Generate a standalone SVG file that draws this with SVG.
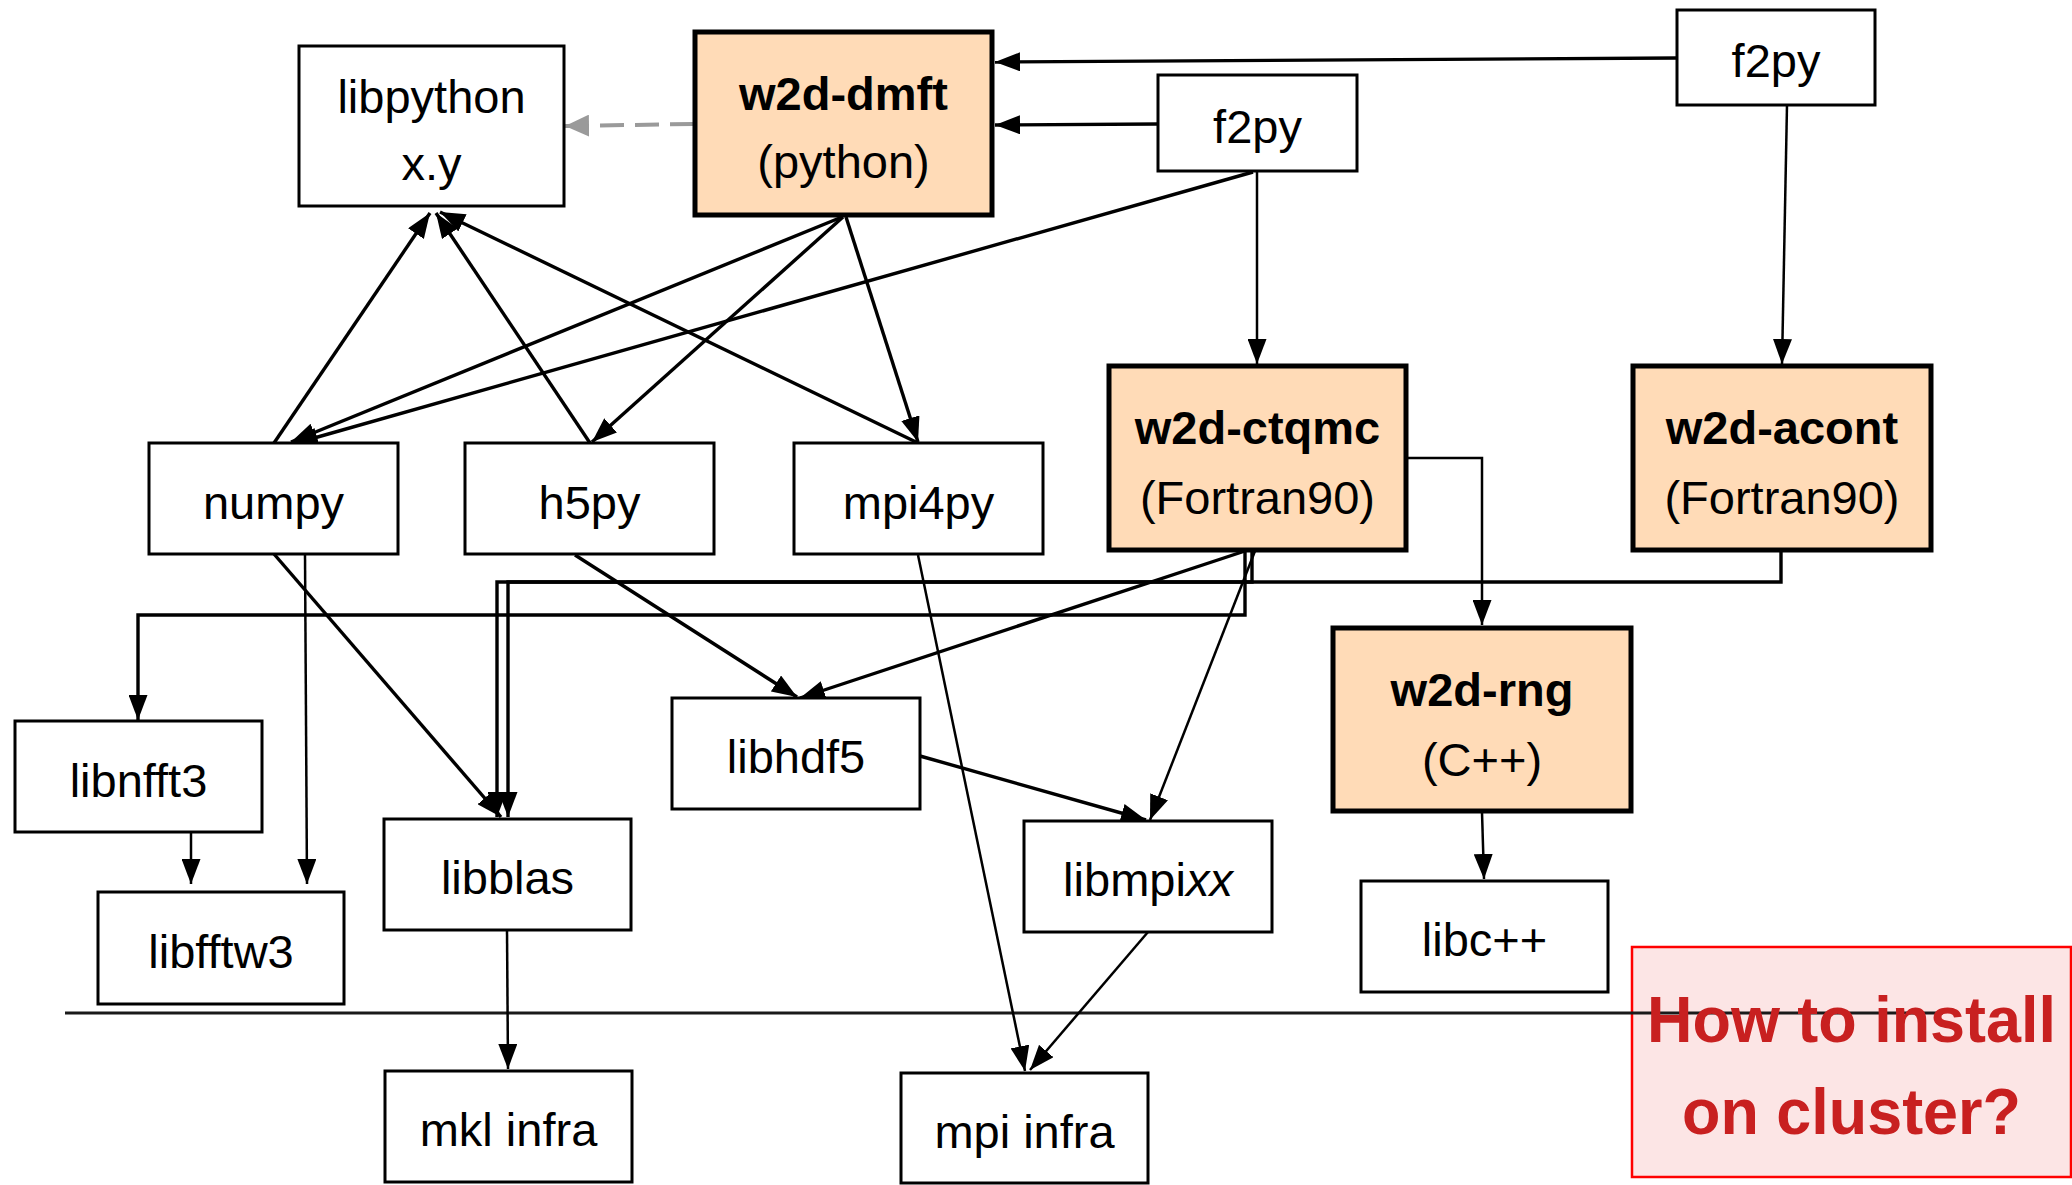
<svg xmlns="http://www.w3.org/2000/svg" width="2072" height="1185" viewBox="0 0 2072 1185">
  <style>
    .box { fill: #ffffff; stroke: #000000; stroke-width: 3; }
    .pkg { fill: #ffdbb7; stroke: #000000; stroke-width: 5; }
    .lbl { font-family: "Liberation Sans", Arial, Helvetica, sans-serif; font-size: 47px; fill: #000000; text-anchor: middle; }
    .bold { font-weight: bold; }
    .edge { fill: none; stroke: #000000; stroke-width: 3.4; marker-end: url(#arrow); }
    .thin { stroke-width: 2.5; }
    .dash { fill: none; stroke: #9a9a9a; stroke-width: 4; stroke-dasharray: 24 11; marker-end: url(#arrowGrey); }
    .note-box { fill: #fce5e5; stroke: #ff0000; stroke-width: 2.5; }
    .note { font-family: "Liberation Sans", Arial, Helvetica, sans-serif; font-size: 64px; font-weight: bold; fill: #c82020; text-anchor: middle; }
  </style>
  <defs>
    <marker id="arrow" viewBox="0 0 25 19" refX="25" refY="9.5" markerWidth="25" markerHeight="19" markerUnits="userSpaceOnUse" orient="auto">
      <path d="M0,0 L25,9.5 L0,19 z" fill="#000000"/>
    </marker>
    <marker id="arrowGrey" viewBox="0 0 24 22" refX="24" refY="11" markerWidth="24" markerHeight="22" markerUnits="userSpaceOnUse" orient="auto">
      <path d="M0,0 L24,11 L0,22 z" fill="#9a9a9a"/>
    </marker>
  </defs>

  <rect width="2072" height="1185" fill="#ffffff"/>

  <!-- note box, drawn below the separator line -->
  <rect class="note-box" x="1632" y="947" width="439" height="230"/>

  <!-- separator between user-space and cluster infrastructure -->
  <line x1="65" y1="1013" x2="1943" y2="1013" stroke="#1a1a1a" stroke-width="3"/>

  <g id="connectors">
    <line class="edge" x1="1677" y1="58" x2="995" y2="62"/>
    <line class="edge" x1="1158" y1="124" x2="995" y2="125"/>
    <line class="edge thin" x1="1257" y1="171" x2="1257" y2="364"/>
    <line class="edge thin" x1="1787" y1="105" x2="1782" y2="364"/>
    <line class="edge" x1="1253" y1="172" x2="293" y2="444"/>
    <line class="dash" x1="694" y1="124" x2="565" y2="126"/>
    <line class="edge" x1="842" y1="217" x2="291" y2="442"/>
    <line class="edge" x1="843" y1="217" x2="592" y2="442"/>
    <line class="edge" x1="846" y1="217" x2="918" y2="442"/>
    <line class="edge" x1="274" y1="443" x2="430" y2="213"/>
    <line class="edge" x1="590" y1="443" x2="436" y2="213"/>
    <line class="edge" x1="918" y1="443" x2="440" y2="212"/>
    <line class="edge" x1="274" y1="554" x2="501" y2="817"/>
    <line class="edge thin" x1="305" y1="554" x2="307" y2="884"/>
    <line class="edge thin" x1="191" y1="828" x2="191" y2="884"/>
    <line class="edge" x1="575" y1="555" x2="797" y2="697"/>
    <line class="edge" x1="1245" y1="551" x2="800" y2="698"/>
    <line class="edge thin" x1="918" y1="555" x2="1025" y2="1071"/>
    <line class="edge thin" x1="1255" y1="551" x2="1150" y2="820"/>
    <line class="edge" x1="920" y1="756" x2="1146" y2="820"/>
    <line class="edge thin" x1="1148" y1="932" x2="1030" y2="1070"/>
    <line class="edge thin" x1="507" y1="930" x2="508" y2="1069"/>
    <line class="edge thin" x1="1482" y1="812" x2="1484" y2="879"/>
    <polyline class="edge thin" points="1406,458 1482,458 1482,625"/>
    <polyline class="edge" points="1245,551 1245,615 138,615 138,720"/>
    <polyline class="edge" points="1252,551 1252,582 508,582 508,817"/>
    <polyline class="edge" points="1781,551 1781,582 497,582 497,817"/>
  </g>

  <g id="libpython">
    <rect class="box" x="299" y="46" width="265" height="160"/>
    <text class="lbl" x="431.5" y="113">libpython</text>
    <text class="lbl" x="431.5" y="180">x.y</text>
  </g>
  <g id="w2d-dmft">
    <rect class="pkg" x="695" y="32" width="297" height="183"/>
    <text class="lbl bold" x="843.5" y="110">w2d-dmft</text>
    <text class="lbl" x="843.5" y="178">(python)</text>
  </g>
  <g id="f2py-dmft">
    <rect class="box" x="1158" y="75" width="199" height="96"/>
    <text class="lbl" x="1257.5" y="143">f2py</text>
  </g>
  <g id="f2py-acont">
    <rect class="box" x="1677" y="10" width="198" height="95"/>
    <text class="lbl" x="1776" y="77">f2py</text>
  </g>
  <g id="numpy">
    <rect class="box" x="149" y="443" width="249" height="111"/>
    <text class="lbl" x="273.5" y="519">numpy</text>
  </g>
  <g id="h5py">
    <rect class="box" x="465" y="443" width="249" height="111"/>
    <text class="lbl" x="589.5" y="519">h5py</text>
  </g>
  <g id="mpi4py">
    <rect class="box" x="794" y="443" width="249" height="111"/>
    <text class="lbl" x="918.5" y="519">mpi4py</text>
  </g>
  <g id="w2d-ctqmc">
    <rect class="pkg" x="1109" y="366" width="297" height="184"/>
    <text class="lbl bold" x="1257.5" y="444">w2d-ctqmc</text>
    <text class="lbl" x="1257.5" y="514">(Fortran90)</text>
  </g>
  <g id="w2d-acont">
    <rect class="pkg" x="1633" y="366" width="298" height="184"/>
    <text class="lbl bold" x="1782" y="444">w2d-acont</text>
    <text class="lbl" x="1782" y="514">(Fortran90)</text>
  </g>
  <g id="w2d-rng">
    <rect class="pkg" x="1333" y="628" width="298" height="183"/>
    <text class="lbl bold" x="1482" y="706">w2d-rng</text>
    <text class="lbl" x="1482" y="776">(C++)</text>
  </g>
  <g id="libnfft3">
    <rect class="box" x="15" y="721" width="247" height="111"/>
    <text class="lbl" x="138.5" y="797">libnfft3</text>
  </g>
  <g id="libfftw3">
    <rect class="box" x="98" y="892" width="246" height="112"/>
    <text class="lbl" x="221" y="968">libfftw3</text>
  </g>
  <g id="libblas">
    <rect class="box" x="384" y="819" width="247" height="111"/>
    <text class="lbl" x="507.5" y="894">libblas</text>
  </g>
  <g id="libhdf5">
    <rect class="box" x="672" y="698" width="248" height="111"/>
    <text class="lbl" x="796" y="773">libhdf5</text>
  </g>
  <g id="libmpixx">
    <rect class="box" x="1024" y="821" width="248" height="111"/>
    <text class="lbl" x="1148" y="896">libmpi<tspan font-style="italic">xx</tspan></text>
  </g>
  <g id="libcxx">
    <rect class="box" x="1361" y="881" width="247" height="111"/>
    <text class="lbl" x="1484.5" y="956">libc++</text>
  </g>
  <g id="mkl-infra">
    <rect class="box" x="385" y="1071" width="247" height="111"/>
    <text class="lbl" x="508.5" y="1146">mkl infra</text>
  </g>
  <g id="mpi-infra">
    <rect class="box" x="901" y="1073" width="247" height="110"/>
    <text class="lbl" x="1024.5" y="1148">mpi infra</text>
  </g>

  <g id="install-note">
    <text class="note" x="1851.5" y="1042" textLength="409" lengthAdjust="spacingAndGlyphs">How to install</text>
    <text class="note" x="1851.5" y="1134" textLength="339" lengthAdjust="spacingAndGlyphs">on cluster?</text>
  </g>
</svg>
